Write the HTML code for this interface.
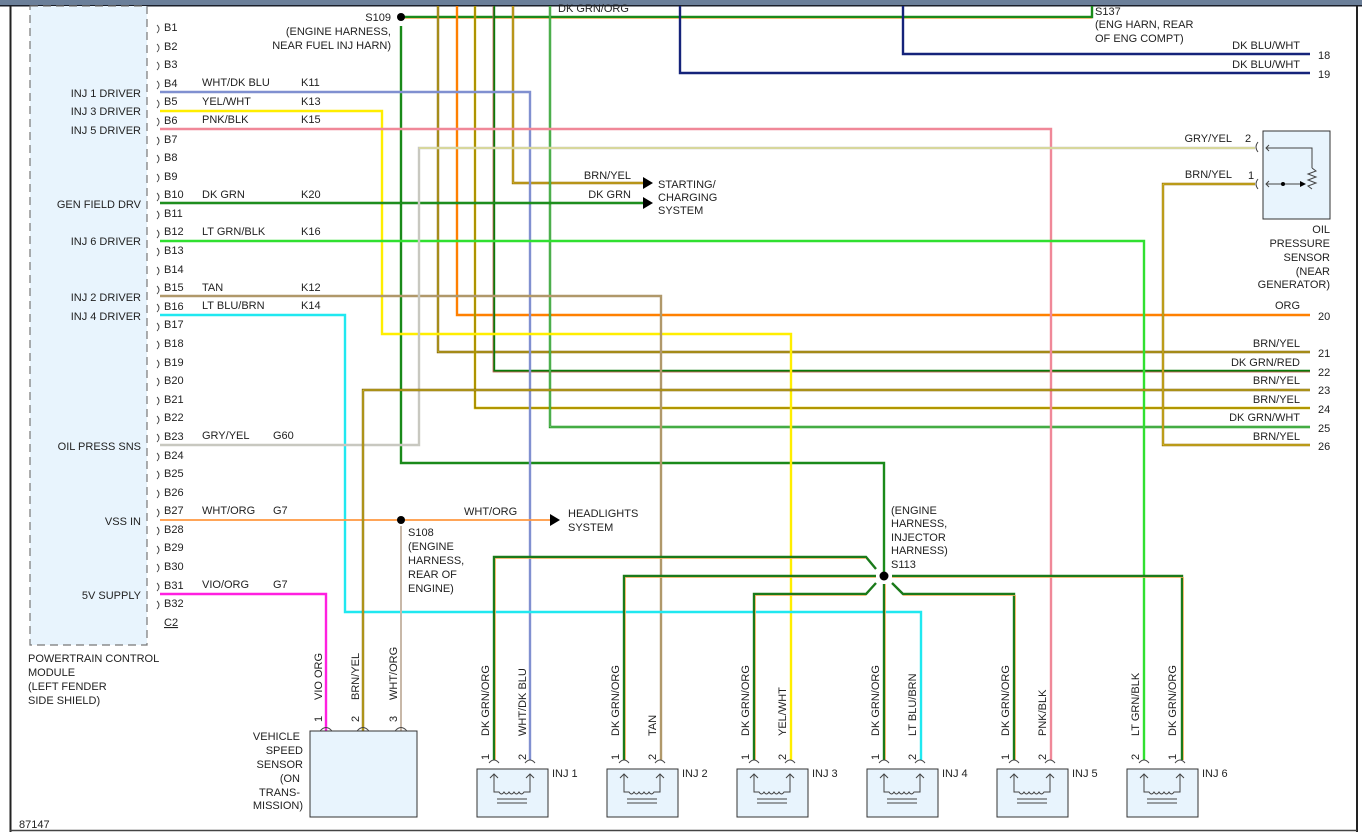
<!DOCTYPE html>
<html><head><meta charset="utf-8"><style>
html,body{margin:0;padding:0;background:#fff;}
svg{display:block;font-family:"Liberation Sans",sans-serif;font-size:11px;fill:#222;}
.w{fill:none;stroke-linejoin:miter;}
</style></head><body>
<svg width="1362" height="832" viewBox="0 0 1362 832" xmlns="http://www.w3.org/2000/svg">
<rect x="0" y="0" width="1362" height="5" fill="#6b7f99"/>
<rect x="0" y="5" width="1362" height="1.5" fill="#1a1f2a"/>
<line x1="10.5" y1="6" x2="10.5" y2="832" stroke="#222" stroke-width="2"/>
<line x1="1357" y1="6" x2="1357" y2="832" stroke="#222" stroke-width="2"/>
<line x1="10" y1="830.5" x2="1357" y2="830.5" stroke="#444" stroke-width="1.5"/>

<!-- PCM -->
<rect x="30" y="6" width="117" height="639" fill="#e8f4fd" stroke="#777" stroke-dasharray="8,5" stroke-width="1.2"/>

<g class="w" stroke-width="2.4">
<path d="M401 17 H1092 V6" stroke="#1a8a1a"/><path d="M401 18.5 H1092" stroke="#ffb060" stroke-width="0.8"/>
<path d="M401 26 V463 H884 V576" stroke="#1a8a1a"/>
<path d="M438 6 V352 H1310" stroke="#806000"/><path d="M438 6 V352 H1310" stroke="#e0d040" stroke-width="0.8"/>
<path d="M457 6 V315 H1310" stroke="#ff8000"/>
<path d="M475 6 V408 H1310" stroke="#d8c000"/><path d="M475 6 V408 H1310" stroke="#705000" stroke-width="0.8"/>
<path d="M494 6 V371 H1310" stroke="#0a7a0a"/><path d="M493 6 V372 H1310" stroke="#e06060" stroke-width="0.7"/>
<path d="M513 6 V183 H643" stroke="#9a7000"/><path d="M513 6 V183 H643" stroke="#e8d040" stroke-width="0.8"/>
<path d="M550 6 V427 H1310" stroke="#1a9a1a"/><path d="M550 6 V427 H1310" stroke="#c0e0c0" stroke-width="0.6"/>
<path d="M680 6 V73 H1310" stroke="#15237a"/>
<path d="M903 6 V54 H1310" stroke="#15237a"/>
<path d="M160 92 H530 V760" stroke="#8090d0"/>
<path d="M160 111 H382 V334 H791 V760" stroke="#ffee00"/>
<path d="M160 129 H1051 V760" stroke="#f08898"/>
<path d="M160 203 H643" stroke="#0a7a0a"/><path d="M160 203 H643" stroke="#40b040" stroke-width="0.8"/>
<path d="M160 241 H1144 V760" stroke="#30e030"/>
<path d="M160 296 H661 V760" stroke="#b0986a"/>
<path d="M160 315 H345 V612 H921 V760" stroke="#20e8f0"/>
<path d="M160 445 H419 V148 H1255" stroke="#c8c8c0"/><path d="M419 148 H1255" stroke="#f0f060" stroke-width="0.8"/>
<path d="M160 520 H551" stroke="#ff9840" stroke-width="1.8"/>
<path d="M401 526 V760" stroke="#c8b8a8" stroke-width="2"/>
<path d="M160 594 H326 V760" stroke="#ff20e0"/>
<path d="M363 760 V390 H1310" stroke="#806000"/><path d="M363 760 V390 H1310" stroke="#f0e040" stroke-width="0.8"/>
<path d="M1255 184 H1163 V445 H1310" stroke="#9a7000"/><path d="M1255 184 H1163 V445 H1310" stroke="#f0e040" stroke-width="0.8"/>
<g stroke="#1a7a1a">
<path d="M876 569 L866 557 H494 V760"/>
<path d="M876 576 H624 V760"/>
<path d="M876 583 L866 594 H754 V760"/>
<path d="M884 584 V760"/>
<path d="M892 583 L903 594 H1014 V760"/>
<path d="M892 576 H1182 V760"/>
</g>
<g stroke="#ffb060" stroke-width="0.8">
<path d="M866 558.5 H495.5 V760"/>
<path d="M876 577.5 H625.5 V760"/>
<path d="M866 595.5 H755.5 V760"/>
<path d="M885.5 584 V760"/>
<path d="M903 595.5 H1015.5 V760"/>
<path d="M892 577.5 H1183.5 V760"/>
</g>
</g>

<circle cx="401" cy="17" r="4" fill="#000"/>
<circle cx="401" cy="520" r="4" fill="#000"/>
<circle cx="884" cy="576" r="4.5" fill="#000"/>

<polygon points="643,177 653,183 643,189" fill="#000"/>
<polygon points="643,197 653,203 643,209" fill="#000"/>
<polygon points="550,514 560,520 550,526" fill="#000"/>

<g fill="none" stroke="#444" stroke-width="0.9">
<path d="M157 25 q4 4 0 8"/><path d="M157 44 q4 4 0 8"/><path d="M157 62 q4 4 0 8"/><path d="M157 81 q4 4 0 8"/><path d="M157 100 q4 4 0 8"/><path d="M157 118 q4 4 0 8"/><path d="M157 137 q4 4 0 8"/><path d="M157 155 q4 4 0 8"/><path d="M157 174 q4 4 0 8"/><path d="M157 193 q4 4 0 8"/><path d="M157 211 q4 4 0 8"/><path d="M157 230 q4 4 0 8"/><path d="M157 248 q4 4 0 8"/><path d="M157 267 q4 4 0 8"/><path d="M157 286 q4 4 0 8"/><path d="M157 304 q4 4 0 8"/><path d="M157 323 q4 4 0 8"/><path d="M157 341 q4 4 0 8"/><path d="M157 360 q4 4 0 8"/><path d="M157 378 q4 4 0 8"/><path d="M157 397 q4 4 0 8"/><path d="M157 416 q4 4 0 8"/><path d="M157 434 q4 4 0 8"/><path d="M157 453 q4 4 0 8"/><path d="M157 471 q4 4 0 8"/><path d="M157 490 q4 4 0 8"/><path d="M157 509 q4 4 0 8"/><path d="M157 527 q4 4 0 8"/><path d="M157 546 q4 4 0 8"/><path d="M157 564 q4 4 0 8"/><path d="M157 583 q4 4 0 8"/><path d="M157 601 q4 4 0 8"/>
</g>
<g>
<text x="164" y="31">B1</text><text x="164" y="50">B2</text><text x="164" y="68">B3</text><text x="164" y="87">B4</text><text x="164" y="105">B5</text><text x="164" y="124">B6</text><text x="164" y="143">B7</text><text x="164" y="161">B8</text><text x="164" y="180">B9</text><text x="164" y="198">B10</text><text x="164" y="217">B11</text><text x="164" y="235">B12</text><text x="164" y="254">B13</text><text x="164" y="273">B14</text><text x="164" y="291">B15</text><text x="164" y="310">B16</text><text x="164" y="328">B17</text><text x="164" y="347">B18</text><text x="164" y="366">B19</text><text x="164" y="384">B20</text><text x="164" y="403">B21</text><text x="164" y="421">B22</text><text x="164" y="440">B23</text><text x="164" y="459">B24</text><text x="164" y="477">B25</text><text x="164" y="496">B26</text><text x="164" y="514">B27</text><text x="164" y="533">B28</text><text x="164" y="551">B29</text><text x="164" y="570">B30</text><text x="164" y="589">B31</text><text x="164" y="607">B32</text><text x="164" y="626" text-decoration="underline">C2</text>
</g>
<g text-anchor="end">
<text x="141" y="97">INJ 1 DRIVER</text><text x="141" y="115">INJ 3 DRIVER</text><text x="141" y="134">INJ 5 DRIVER</text>
<text x="141" y="208">GEN FIELD DRV</text><text x="141" y="245">INJ 6 DRIVER</text>
<text x="141" y="301">INJ 2 DRIVER</text><text x="141" y="320">INJ 4 DRIVER</text>
<text x="141" y="450">OIL PRESS SNS</text><text x="141" y="525">VSS IN</text><text x="141" y="599">5V SUPPLY</text>
</g>
<g>
<text x="202" y="86">WHT/DK BLU</text><text x="301" y="86">K11</text>
<text x="202" y="105">YEL/WHT</text><text x="301" y="105">K13</text>
<text x="202" y="123">PNK/BLK</text><text x="301" y="123">K15</text>
<text x="202" y="198">DK GRN</text><text x="301" y="198">K20</text>
<text x="202" y="235">LT GRN/BLK</text><text x="301" y="235">K16</text>
<text x="202" y="291">TAN</text><text x="301" y="291">K12</text>
<text x="202" y="309">LT BLU/BRN</text><text x="301" y="309">K14</text>
<text x="202" y="439">GRY/YEL</text><text x="273" y="439">G60</text>
<text x="202" y="514">WHT/ORG</text><text x="273" y="514">G7</text>
<text x="202" y="588">VIO/ORG</text><text x="273" y="588">G7</text>
<text x="28" y="662">POWERTRAIN CONTROL</text><text x="28" y="676">MODULE</text><text x="28" y="690">(LEFT FENDER</text><text x="28" y="704">SIDE SHIELD)</text>
<text x="19" y="828">87147</text>
</g>
<g text-anchor="end">
<text x="391" y="21">S109</text><text x="391" y="35">(ENGINE HARNESS,</text><text x="391" y="49">NEAR FUEL INJ HARN)</text>
</g>
<text x="558" y="12">DK GRN/ORG</text>
<text x="1095" y="15">S137</text><text x="1095" y="28">(ENG HARN, REAR</text><text x="1095" y="42">OF ENG COMPT)</text>
<g text-anchor="end">
<text x="1300" y="49">DK BLU/WHT</text><text x="1300" y="68">DK BLU/WHT</text>
<text x="1300" y="309">ORG</text><text x="1300" y="347">BRN/YEL</text><text x="1300" y="366">DK GRN/RED</text>
<text x="1300" y="384">BRN/YEL</text><text x="1300" y="403">BRN/YEL</text><text x="1300" y="421">DK GRN/WHT</text><text x="1300" y="440">BRN/YEL</text>
<text x="631" y="179">BRN/YEL</text><text x="631" y="198">DK GRN</text>
<text x="1232" y="142">GRY/YEL</text><text x="1232" y="178">BRN/YEL</text>
<text x="1330" y="233">OIL</text><text x="1330" y="247">PRESSURE</text><text x="1330" y="261">SENSOR</text><text x="1330" y="275">(NEAR</text><text x="1330" y="288">GENERATOR)</text>
</g>
<g>
<text x="1318" y="59">18</text><text x="1318" y="78">19</text><text x="1318" y="320">20</text><text x="1318" y="357">21</text><text x="1318" y="376">22</text><text x="1318" y="394">23</text><text x="1318" y="413">24</text><text x="1318" y="432">25</text><text x="1318" y="450">26</text>
<text x="1245" y="142">2</text><text x="1248" y="179">1</text>
<text x="658" y="188">STARTING/</text><text x="658" y="201">CHARGING</text><text x="658" y="214">SYSTEM</text>
<text x="568" y="517">HEADLIGHTS</text><text x="568" y="531">SYSTEM</text>
<text x="464" y="515">WHT/ORG</text>
<text x="408" y="536">S108</text><text x="408" y="550">(ENGINE</text><text x="408" y="564">HARNESS,</text><text x="408" y="578">REAR OF</text><text x="408" y="592">ENGINE)</text>
<text x="891" y="514">(ENGINE</text><text x="891" y="527">HARNESS,</text><text x="891" y="541">INJECTOR</text><text x="891" y="554">HARNESS)</text><text x="891" y="568">S113</text>
</g>

<rect x="1263" y="131" width="67" height="88" fill="#e8f4fd" stroke="#333"/>
<g fill="none" stroke="#444" stroke-width="1">
<path d="M1258 142 q-4 5 0 10"/><path d="M1258 179 q-4 5 0 10"/>
<path d="M1266 148 H1312 V168"/><path d="M1269 145 l-3 3 l3 3"/>
<path d="M1266 184 H1300"/><path d="M1269 181 l-3 3 l3 3"/>
<path d="M1312 168 l4 3 l-8 3 l8 3 l-8 3 l8 3 l-8 3 l4 3"/>
</g>
<circle cx="1283" cy="184" r="2" fill="#000"/><polygon points="1300,181 1306,184 1300,187" fill="#000"/>

<rect x="310" y="731" width="107" height="86" fill="#e8f4fd" stroke="#333"/>
<g fill="none" stroke="#444" stroke-width="0.9"><path d="M320 731 q6 -7 12 0"/><path d="M357 731 q6 -7 12 0"/><path d="M395 731 q6 -7 12 0"/></g>
<g text-anchor="end">
<text x="300" y="740">VEHICLE</text><text x="303" y="754">SPEED</text><text x="303" y="768">SENSOR</text><text x="300" y="782">(ON</text><text x="300" y="796">TRANS-</text><text x="303" y="809">MISSION)</text>
</g>
<text transform="translate(322,722) rotate(-90)">1</text><text transform="translate(359,722) rotate(-90)">2</text><text transform="translate(397,722) rotate(-90)">3</text>
<text transform="translate(322,700) rotate(-90)">VIO ORG</text><text transform="translate(359,700) rotate(-90)">BRN/YEL</text><text transform="translate(397,700) rotate(-90)">WHT/ORG</text>

<defs>
<g id="inj">
<rect x="0" y="0" width="71" height="48" fill="#e8f4fd" stroke="#333"/>
<g fill="none" stroke="#444" stroke-width="1">
<path d="M12 -6 q5 -6 10 0"/><path d="M48 -6 q5 -6 10 0"/>
<path d="M17 5 V23 H22 q2.5 4 5 0 q2.5 4 5 0 q2.5 4 5 0 q2.5 4 5 0 q2.5 4 5 0 H53 V5"/>
<path d="M13 9 l4 -4 l4 4"/><path d="M49 9 l4 -4 l4 4"/>
<path d="M20 30 H50"/><path d="M20 34 H50"/>
</g>
</g>
</defs>
<use href="#inj" x="477" y="769"/><use href="#inj" x="607" y="769"/><use href="#inj" x="737" y="769"/><use href="#inj" x="867" y="769"/><use href="#inj" x="997" y="769"/><use href="#inj" x="1127" y="769"/>
<text x="552" y="777">INJ 1</text><text x="682" y="777">INJ 2</text><text x="812" y="777">INJ 3</text><text x="942" y="777">INJ 4</text><text x="1072" y="777">INJ 5</text><text x="1202" y="777">INJ 6</text>
<g>
<text transform="translate(489,760) rotate(-90)">1</text><text transform="translate(526,760) rotate(-90)">2</text>
<text transform="translate(619,760) rotate(-90)">1</text><text transform="translate(656,760) rotate(-90)">2</text>
<text transform="translate(749,760) rotate(-90)">1</text><text transform="translate(786,760) rotate(-90)">2</text>
<text transform="translate(879,760) rotate(-90)">1</text><text transform="translate(916,760) rotate(-90)">2</text>
<text transform="translate(1009,760) rotate(-90)">1</text><text transform="translate(1046,760) rotate(-90)">2</text>
<text transform="translate(1139,760) rotate(-90)">2</text><text transform="translate(1176,760) rotate(-90)">1</text>
<text transform="translate(489,736) rotate(-90)">DK GRN/ORG</text><text transform="translate(526,736) rotate(-90)">WHT/DK BLU</text>
<text transform="translate(619,736) rotate(-90)">DK GRN/ORG</text><text transform="translate(656,736) rotate(-90)">TAN</text>
<text transform="translate(749,736) rotate(-90)">DK GRN/ORG</text><text transform="translate(786,736) rotate(-90)">YEL/WHT</text>
<text transform="translate(879,736) rotate(-90)">DK GRN/ORG</text><text transform="translate(916,736) rotate(-90)">LT BLU/BRN</text>
<text transform="translate(1009,736) rotate(-90)">DK GRN/ORG</text><text transform="translate(1046,736) rotate(-90)">PNK/BLK</text>
<text transform="translate(1139,736) rotate(-90)">LT GRN/BLK</text><text transform="translate(1176,736) rotate(-90)">DK GRN/ORG</text>
</g>
</svg>
</body></html>
